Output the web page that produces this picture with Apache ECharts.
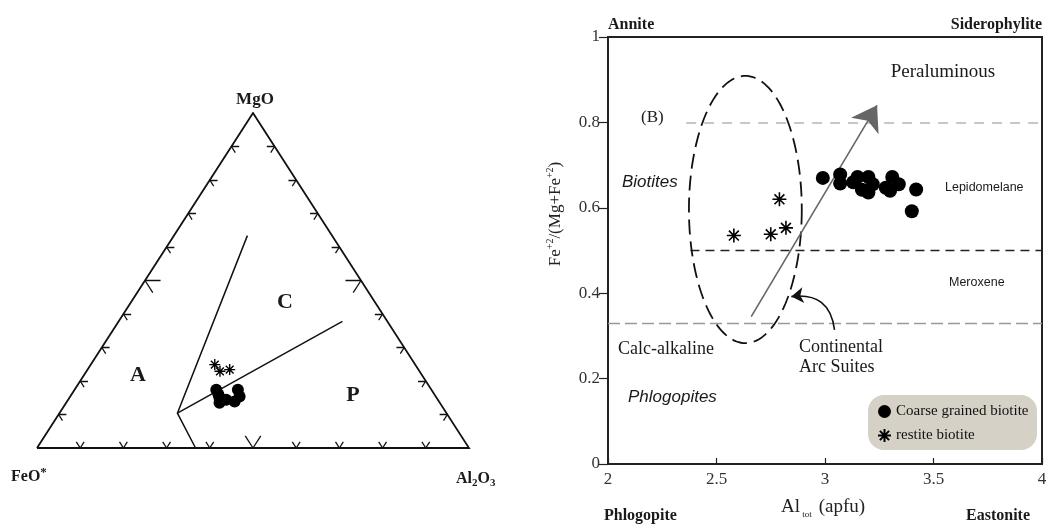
<!DOCTYPE html>
<html><head><meta charset="utf-8">
<script src="https://cdn.jsdelivr.net/npm/echarts@6/dist/echarts.min.js"></script>
<style>html,body{margin:0;padding:0;background:#fff}#c{width:1056px;height:528px}</style>
</head><body><div id="c"></div>
<script>
// ---------- Ternary (MgO - FeO* - Al2O3), values in % ----------
const ternCoarseMgO   = [17.4, 14.9, 14.4, 17.4, 15.4, 13.9, 16.0, 13.5];
const ternCoarseFeO   = [49.8, 50.3, 49.0, 44.8, 45.4, 47.3, 50.0, 51.0];
const ternCoarseAl2O3 = [32.8, 34.8, 36.6, 37.8, 39.2, 38.8, 34.0, 35.5];
const ternRestiteMgO   = [24.9, 23.4, 22.9];
const ternRestiteFeO   = [46.4, 43.7, 46.2];
const ternRestiteAl2O3 = [28.7, 32.9, 30.9];
// field boundaries: [MgO, FeO, Al2O3]
const boundaryLineA = [[0, 63.3, 36.7], [10.4, 62.3, 27.3], [63.4, 19.6, 17.0]];
const boundaryLineB = [[10.4, 62.3, 27.3], [37.8, 10.4, 51.8]];
const triangleVertices = [[0, 100, 0], [0, 0, 100], [100, 0, 0], [0, 100, 0]];
const ternTicks = [10, 20, 30, 40, 50, 60, 70, 80, 90];
const ternMajorTick = 50;

// ---------- Biotite classification (Al tot vs Fe/(Mg+Fe)) ----------
const coarseAlTot = [2.99, 3.07, 3.07, 3.15, 3.20, 3.17, 3.20, 3.31, 3.28, 3.34, 3.30, 3.42, 3.40, 3.13, 3.22];
const coarseFeRatio = [0.670, 0.678, 0.657, 0.672, 0.672, 0.642, 0.636, 0.672, 0.647, 0.655, 0.640, 0.643, 0.592, 0.660, 0.655];
const restiteAlTot = [2.58, 2.75, 2.79, 2.82];
const restiteFeRatio = [0.535, 0.538, 0.620, 0.553];
const xTicks = [2, 2.5, 3, 3.5, 4];
const yTicks = [0, 0.2, 0.4, 0.6, 0.8, 1];
// reference lines: [xStart, xEnd, y]
const lineB08 = [2.36, 4, 0.8];
const lineLepMer = [2.38, 4, 0.5];
const lineCalc = [2, 4, 0.33];
const ellipseCenter = [2.633, 0.596];
const ellipseRadii = [0.26, 0.313];
const peraluminousArrow = [[2.66, 0.345], [3.24, 0.84]];
const arcSuitesArrow = [[3.044, 0.314], [2.845, 0.392]];

function tern(mg, fe, al) {
  const s = mg + fe + al;
  return [(al + mg / 2) / s, mg / s];
}

const serif = "'Liberation Serif','Times New Roman',serif";
const sans = "'Liberation Sans',Arial,sans-serif";
const asterisk = 'path://M0,-10L0,10M-10,0L10,0M-7.07,-7.07L7.07,7.07M-7.07,7.07L7.07,-7.07';

// tick arm segments built from tick list
const tickSegs = [];
ternTicks.forEach(t => {
  const d = t === ternMajorTick ? 3.6 : 1.8;
  let p = [0, 100 - t, t];
  tickSegs.push({coords: [tern(...p), tern(p[0] + d, p[1] - d, p[2])]});
  tickSegs.push({coords: [tern(...p), tern(p[0] + d, p[1], p[2] - d)]});
  p = [t, 100 - t, 0];
  tickSegs.push({coords: [tern(...p), tern(p[0], p[1] - d, p[2] + d)]});
  tickSegs.push({coords: [tern(...p), tern(p[0] - d, p[1], p[2] + d)]});
  p = [t, 0, 100 - t];
  tickSegs.push({coords: [tern(...p), tern(p[0], p[1] + d, p[2] - d)]});
  tickSegs.push({coords: [tern(...p), tern(p[0] - d, p[1] + d, p[2])]});
});

const chart = echarts.init(document.getElementById('c'), null, {renderer: 'canvas'});

function txt(x, y, text, font, align, extra) {
  return Object.assign({
    type: 'text', x: x, y: y, silent: true,
    style: Object.assign({text: text, fill: '#1a1a1a', textAlign: align || 'left', align: align || 'left',
      textVerticalAlign: 'middle', verticalAlign: 'middle'}, font)
  }, extra || {});
}

const option = {
  animation: false,
  backgroundColor: '#fff',
  grid: [
    {left: 37, top: 113, width: 432, height: 335, show: false},
    {left: 608, top: 37, width: 434, height: 427, show: true, borderColor: '#222', borderWidth: 2, backgroundColor: 'transparent'}
  ],
  xAxis: [
    {gridIndex: 0, type: 'value', min: 0, max: 1, show: false},
    {gridIndex: 1, type: 'value', min: xTicks[0], max: xTicks[xTicks.length - 1], interval: 0.5,
      axisLine: {show: true, onZero: false, lineStyle: {color: '#222', width: 2}},
      axisTick: {show: true, inside: true, length: 6, lineStyle: {color: '#222', width: 1.2}},
      axisLabel: {fontFamily: serif, fontSize: 17, color: '#333', margin: 7},
      splitLine: {show: false}}
  ],
  yAxis: [
    {gridIndex: 0, type: 'value', min: 0, max: 1, show: false},
    {gridIndex: 1, type: 'value', min: yTicks[0], max: yTicks[yTicks.length - 1], interval: 0.2,
      axisLine: {show: true, onZero: false, lineStyle: {color: '#222', width: 2}},
      axisTick: {show: true, inside: false, length: 9, lineStyle: {color: '#222', width: 1.2}},
      axisLabel: {fontFamily: serif, fontSize: 17, color: '#333', margin: 8,
        formatter: v => (v === 0 || v === 1) ? String(v) : v.toFixed(1)},
      splitLine: {show: false}}
  ],
  legend: {
    left: 872, top: 399, orient: 'vertical', itemWidth: 13, itemHeight: 13, itemGap: 9,
    selectedMode: false,
    textStyle: {fontFamily: serif, fontSize: 15, color: '#111'},
    data: [{name: 'Coarse grained biotite', icon: 'circle'}, {name: 'restite biotite', icon: asterisk}]
  },
  graphic: [
    {type: 'rect', x: 868, y: 395, shape: {width: 169, height: 55, r: 16}, style: {fill: '#d5d1c7'}, z: -1, silent: true},
    // ternary labels
    txt(255, 100, 'MgO', {fontFamily: serif, fontSize: 17, fontWeight: 'bold'}, 'center'),
    txt(138, 375, 'A', {fontFamily: serif, fontSize: 22, fontWeight: 'bold'}, 'center'),
    txt(285, 302, 'C', {fontFamily: serif, fontSize: 22, fontWeight: 'bold'}, 'center'),
    txt(353, 395, 'P', {fontFamily: serif, fontSize: 22, fontWeight: 'bold'}, 'center'),
    txt(11, 477, '{m|FeO}{sup|*}', {fontFamily: serif, fontSize: 16, fontWeight: 'bold',
      rich: {m: {fontFamily: serif, fontSize: 16, fontWeight: 'bold', lineHeight: 22, fill: '#1a1a1a'},
             sup: {fontFamily: serif, fontSize: 13, fontWeight: 'bold', verticalAlign: 'top', lineHeight: 22, fill: '#1a1a1a'}}}, 'left'),
    txt(456, 479, '{m|Al}{sub|2}{m|O}{sub|3}', {fontFamily: serif, fontSize: 16, fontWeight: 'bold',
      rich: {m: {fontFamily: serif, fontSize: 16, fontWeight: 'bold', lineHeight: 20, fill: '#1a1a1a'},
             sub: {fontFamily: serif, fontSize: 11, fontWeight: 'bold', verticalAlign: 'bottom', lineHeight: 20, fill: '#1a1a1a'}}}, 'left'),
    // right panel labels
    txt(608, 25, 'Annite', {fontFamily: serif, fontSize: 16, fontWeight: 'bold'}, 'left'),
    txt(1042, 25, 'Siderophylite', {fontFamily: serif, fontSize: 16, fontWeight: 'bold'}, 'right'),
    txt(604, 516, 'Phlogopite', {fontFamily: serif, fontSize: 16, fontWeight: 'bold'}, 'left'),
    txt(1030, 516, 'Eastonite', {fontFamily: serif, fontSize: 16, fontWeight: 'bold'}, 'right'),
    txt(823, 507, '{m|Al}{sub| tot }{m| (apfu)}', {fontFamily: serif, fontSize: 19,
      rich: {m: {fontFamily: serif, fontSize: 19, lineHeight: 24, fill: '#222'},
             sub: {fontFamily: serif, fontSize: 9, verticalAlign: 'bottom', lineHeight: 24, fill: '#222'}}}, 'center'),
    txt(556, 214, '{m|Fe}{sup|+2}{m|/(Mg+Fe}{sup|+2}{m|)}', {fontFamily: serif, fontSize: 17,
      rich: {m: {fontFamily: serif, fontSize: 17, lineHeight: 22, fill: '#222'},
             sup: {fontFamily: serif, fontSize: 10, verticalAlign: 'top', lineHeight: 22, fill: '#222'}}}, 'center', {rotation: Math.PI / 2}),
    txt(641, 118, '(B)', {fontFamily: serif, fontSize: 17}, 'left'),
    txt(943, 72, 'Peraluminous', {fontFamily: serif, fontSize: 19}, 'center'),
    txt(622, 182, 'Biotites', {fontFamily: sans, fontSize: 17, fontStyle: 'italic'}, 'left'),
    txt(628, 397, 'Phlogopites', {fontFamily: sans, fontSize: 17, fontStyle: 'italic'}, 'left'),
    txt(945, 188, 'Lepidomelane', {fontFamily: sans, fontSize: 12.5}, 'left'),
    txt(949, 283, 'Meroxene', {fontFamily: sans, fontSize: 12.5}, 'left'),
    txt(618, 349, 'Calc-alkaline', {fontFamily: serif, fontSize: 18}, 'left'),
    txt(799, 347, 'Continental', {fontFamily: serif, fontSize: 18}, 'left'),
    txt(799, 367, 'Arc Suites', {fontFamily: serif, fontSize: 18}, 'left')
  ],
  series: [
    // ---- ternary ----
    {type: 'lines', coordinateSystem: 'cartesian2d', xAxisIndex: 0, yAxisIndex: 0, polyline: true, silent: true,
      lineStyle: {color: '#111', width: 1.8, opacity: 1},
      data: [{coords: triangleVertices.map(v => tern(...v))}]},
    {type: 'lines', coordinateSystem: 'cartesian2d', xAxisIndex: 0, yAxisIndex: 0, polyline: true, silent: true,
      lineStyle: {color: '#111', width: 1.5, opacity: 1},
      data: [{coords: boundaryLineA.map(v => tern(...v))}, {coords: boundaryLineB.map(v => tern(...v))}]},
    {type: 'lines', coordinateSystem: 'cartesian2d', xAxisIndex: 0, yAxisIndex: 0, silent: true,
      lineStyle: {color: '#111', width: 1.3, opacity: 1}, data: tickSegs},
    {name: 'Coarse grained biotite', type: 'scatter', xAxisIndex: 0, yAxisIndex: 0, symbol: 'circle', symbolSize: 12,
      itemStyle: {color: '#000', opacity: 1},
      data: ternCoarseMgO.map((m, i) => tern(m, ternCoarseFeO[i], ternCoarseAl2O3[i]))},
    {name: 'restite biotite', type: 'scatter', xAxisIndex: 0, yAxisIndex: 0, symbol: asterisk, symbolSize: 11,
      itemStyle: {color: '#000', borderColor: '#000', borderWidth: 1.4, opacity: 1},
      data: ternRestiteMgO.map((m, i) => tern(m, ternRestiteFeO[i], ternRestiteAl2O3[i]))},
    // ---- right panel ----
    {type: 'lines', coordinateSystem: 'cartesian2d', xAxisIndex: 1, yAxisIndex: 1, silent: true,
      data: [
        {coords: [[lineB08[0], lineB08[2]], [lineB08[1], lineB08[2]]], lineStyle: {color: '#b5b5b5', width: 1.5, type: [10, 8], opacity: 1}},
        {coords: [[lineLepMer[0], lineLepMer[2]], [lineLepMer[1], lineLepMer[2]]], lineStyle: {color: '#222', width: 1.3, type: [9, 6], opacity: 1}},
        {coords: [[lineCalc[0], lineCalc[2]], [lineCalc[1], lineCalc[2]]], lineStyle: {color: '#999', width: 1.3, type: [12, 5], opacity: 1}}
      ]},
    {type: 'custom', xAxisIndex: 1, yAxisIndex: 1, silent: true, clip: false,
      encode: {x: 0, y: 1},
      data: [[ellipseCenter[0], ellipseCenter[1], ellipseRadii[0], ellipseRadii[1]]],
      renderItem: function (params, api) {
        const c = api.coord([api.value(0), api.value(1)]);
        const s = api.size([api.value(2), api.value(3)]);
        const pts = [];
        for (let i = 0; i <= 160; i++) {
          const a = i / 160 * 2 * Math.PI;
          pts.push([c[0] + s[0] * Math.cos(a), c[1] + s[1] * Math.sin(a)]);
        }
        return {type: 'polyline', shape: {points: pts},
          style: {stroke: '#111', lineWidth: 1.8, fill: null, lineDash: [15, 7]}};
      }},
    {type: 'lines', coordinateSystem: 'cartesian2d', xAxisIndex: 1, yAxisIndex: 1, silent: true,
      symbol: ['none', 'arrow'], symbolSize: 24,
      lineStyle: {color: '#666', width: 1.6, opacity: 1},
      data: [{coords: peraluminousArrow}]},
    {type: 'lines', coordinateSystem: 'cartesian2d', xAxisIndex: 1, yAxisIndex: 1, silent: true,
      symbol: ['none', 'arrow'], symbolSize: 12,
      lineStyle: {color: '#111', width: 1.6, opacity: 1, curveness: -0.5},
      data: [{coords: arcSuitesArrow}]},
    {name: 'Coarse grained biotite', type: 'scatter', xAxisIndex: 1, yAxisIndex: 1, symbol: 'circle', symbolSize: 14,
      itemStyle: {color: '#000', opacity: 1},
      data: coarseAlTot.map((x, i) => [x, coarseFeRatio[i]])},
    {name: 'restite biotite', type: 'scatter', xAxisIndex: 1, yAxisIndex: 1, symbol: asterisk, symbolSize: 14,
      itemStyle: {color: '#000', borderColor: '#000', borderWidth: 1.6, opacity: 1},
      data: restiteAlTot.map((x, i) => [x, restiteFeRatio[i]])}
  ]
};
chart.setOption(option);
</script>
</body></html>
